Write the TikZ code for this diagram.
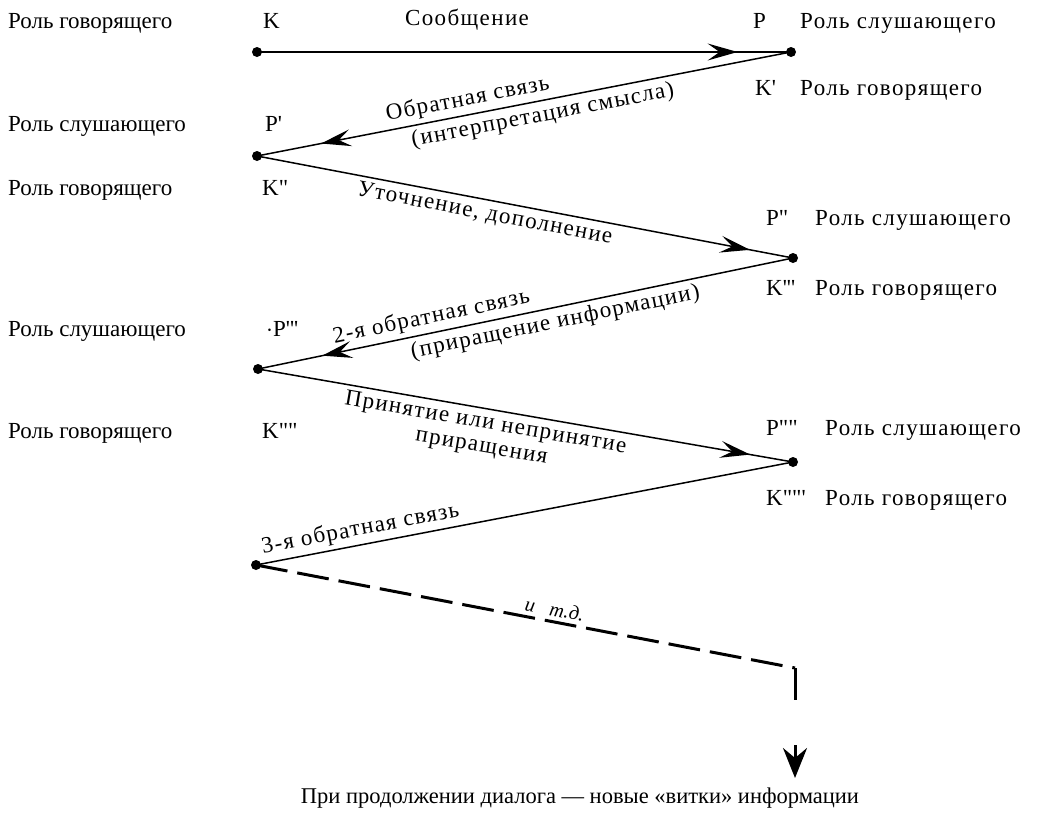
\documentclass[tikz,border=0pt]{standalone}
\usepackage{fontspec}
\setmainfont{Liberation Serif}[Ligatures=TeXOff]
\newfontfamily\wideserif{Liberation Serif}[Ligatures=TeXOff,LetterSpace=6]
\usetikzlibrary{arrows.meta,decorations.markings}
\newcommand\qs{\symbol{39}}
\newcommand\qd{\symbol{34}}
\begin{document}
\begin{tikzpicture}[x=1pt,y=-1pt,
  font=\fontsize{23}{27}\selectfont,
  dot/.style={circle,fill=black,inner sep=0pt,minimum size=10pt},
  role/.style={inner sep=0pt,anchor=base west},
  rrole/.style={inner sep=0pt,anchor=base west,font=\wideserif\fontsize{23}{27}\selectfont},
  wire/.style={line width=1.5pt},
  tipmark/.style={postaction={decorate},decoration={markings,mark=at position #1 with {\arrow{Stealth[length=30pt,width=17pt,inset=12pt]}}}},
  elabel/.style={sloped,inner sep=4pt,font=\wideserif\fontsize{23}{24}\selectfont}]
\fill[white] (0,0) rectangle (1060,822);
\useasboundingbox (0,0) rectangle (1060,822);
% dots
\node[dot] (k0) at (257,52) {};
\node[dot] (p0) at (791,52) {};
\node[dot] (p1) at (257,156) {};
\node[dot] (p2) at (793,258) {};
\node[dot] (p3) at (258,369) {};
\node[dot] (p4) at (793,462) {};
\node[dot] (p5) at (256,565) {};
\coordinate (d1) at (795,668);
\coordinate (d2) at (795,700);
\coordinate (a1) at (795,745);
\coordinate (a2) at (795,778);
% left roles
\node[role] (l1) at (8,28) {Роль говорящего};
\node[role] (l1s) at (263,28) {K};
\node[role] (l2) at (8,131) {Роль слушающего};
\node[role] (l2s) at (265,131) {P\qs};
\node[role] (l3) at (8,195) {Роль говорящего};
\node[role] (l3s) at (262,195) {K\qd};
\node[role] (l4) at (8,336) {Роль слушающего};
\node[role] (l4s) at (266,336) {$\cdot$P\qs\qs\qs};
\node[role] (l5) at (8,438) {Роль говорящего};
\node[role] (l5s) at (262,438) {K\qd\qd};
% right roles
\node[role] (r1s) at (753,28) {P};
\node[rrole] (r1) at (800,28) {Роль слушающего};
\node[role] (r2s) at (755,95) {K\qs};
\node[rrole] (r2) at (800,95) {Роль говорящего};
\node[role] (r3s) at (766,225) {P\qd};
\node[rrole] (r3) at (815,225) {Роль слушающего};
\node[role] (r4s) at (766,295) {K\qs\qs\qs};
\node[rrole] (r4) at (815,295) {Роль говорящего};
\node[role] (r5s) at (766,435) {P\qd\qd};
\node[rrole] (r5) at (825,435) {Роль слушающего};
\node[role] (r6s) at (766,505) {K\qd\qd\qs};
\node[rrole] (r6) at (825,505) {Роль говорящего};
% connectors
\node[font=\wideserif\fontsize{23}{27}\selectfont] (msg) at (467,20) {Сообщение};
\draw[wire,tipmark=0.9] (k0.center) -- (p0.center);
\draw[wire,tipmark=0.88] (p0.center) -- (p1.center)
  node[elabel,pos=0.6,above] {Обратная связь}
  node[elabel,pos=0.47,below] {(интерпретация смысла)};
\draw[wire,tipmark=0.92] (p1.center) -- (p2.center)
  node[elabel,pos=0.43,below] {Уточнение, дополнение};
\draw[wire,tipmark=0.88] (p2.center) -- (p3.center)
  node[elabel,pos=0.67,above] {2-я обратная связь}
  node[elabel,pos=0.45,below] {(приращение информации)};
\draw[wire,tipmark=0.92] (p3.center) -- (p4.center)
  node[elabel,pos=0.43,below,align=center] {Принятие или непринятие\\приращения};
\draw[wire] (p4.center) -- (p5.center)
  node[elabel,pos=0.8,above] {3-я обратная связь};
\draw[line width=3pt,dash pattern=on 32pt off 10pt] (p5.center) -- (d1)
  node[elabel,pos=0.55,above,font=\itshape\fontsize{20}{22}\selectfont] {и\ \ \ т.д.};
\draw[line width=3pt] (d1) -- (d2);
\draw[line width=3pt,-{Stealth[length=30pt,width=24pt,inset=10pt]}] (a1) -- (a2);
\node[anchor=base,font=\fontsize{22.5}{27}\selectfont] (foot) at (580,803) {При продолжении диалога — новые «витки» информации};
\end{tikzpicture}
\end{document}
